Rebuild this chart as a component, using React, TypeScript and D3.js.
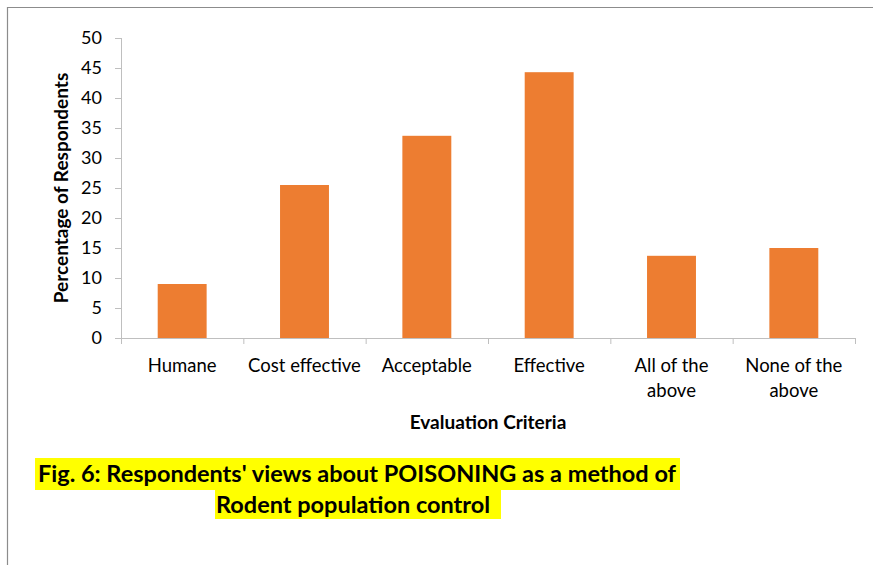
import React from "react";
import * as d3 from "d3";

const categories: string[][] = [
  ["Humane"],
  ["Cost effective"],
  ["Acceptable"],
  ["Effective"],
  ["All of the", "above"],
  ["None of the", "above"],
];
const values: number[] = [9.0, 25.5, 33.7, 44.3, 13.7, 15.0];
const yTicks: number[] = [0, 5, 10, 15, 20, 25, 30, 35, 40, 45, 50];
const yTitle = "Percentage of Respondents";
const xTitle = "Evaluation Criteria";
const caption1 = "Fig. 6: Respondents' views about POISONING as a method of";
const caption2 = "Rodent population control";

const W = 875;
const H = 565;
const FONT = "Lato, 'Open Sans', sans-serif";

export default function App() {
  const left = 121;
  const right = 855;
  const top = 38;
  const bottom = 338;
  const x = d3
    .scaleBand<number>()
    .domain(d3.range(categories.length))
    .range([left, right])
    .paddingInner(0.6)
    .paddingOuter(0.3);
  const y = d3.scaleLinear().domain([0, 50]).range([bottom, top]);
  const step = (right - left) / categories.length;
  const axisColor = "#bfbfbf";

  return (
    <svg
      width={W}
      height={H}
      style={{ position: "absolute", left: 0, top: 0, background: "#fff" }}
    >
      <line x1={7} y1={7.5} x2={873} y2={7.5} stroke="#8c8c8c" strokeWidth={1.2} />
      <line x1={7.5} y1={7} x2={7.5} y2={565} stroke="#8c8c8c" strokeWidth={1.2} />

      {/* y axis */}
      <line x1={left + 0.5} y1={top} x2={left + 0.5} y2={bottom} stroke={axisColor} />
      {yTicks.map((t) => (
        <g key={t}>
          <line x1={left - 6} x2={left} y1={y(t) + 0.5} y2={y(t) + 0.5} stroke={axisColor} />
          <text
            x={left - 19}
            y={y(t)}
            dy="0.36em"
            textAnchor="end"
            fontFamily={FONT}
            fontSize={18}
            fill="#000"
          >
            {t}
          </text>
        </g>
      ))}

      {/* bars */}
      {values.map((v, i) => (
        <rect
          key={i}
          x={x(i)}
          y={y(v)}
          width={x.bandwidth()}
          height={y(0) - y(v)}
          fill="#ED7D31"
        />
      ))}

      {/* x axis */}
      <line x1={left} y1={bottom + 0.5} x2={right} y2={bottom + 0.5} stroke={axisColor} />
      {d3.range(categories.length + 1).map((i) => (
        <line
          key={i}
          x1={left + i * step + 0.5}
          x2={left + i * step + 0.5}
          y1={bottom}
          y2={bottom + 6}
          stroke={axisColor}
        />
      ))}
      {categories.map((lines, i) => (
        <text
          key={i}
          x={left + (i + 0.5) * step}
          y={372}
          textAnchor="middle"
          fontFamily={FONT}
          fontSize={18.5}
          fill="#000"
        >
          {lines.map((l, j) => (
            <tspan key={j} x={left + (i + 0.5) * step} dy={j === 0 ? 0 : 25}>
              {l}
            </tspan>
          ))}
        </text>
      ))}

      {/* axis titles */}
      <text
        x={488}
        y={429}
        textAnchor="middle"
        fontFamily={FONT}
        fontSize={19}
        fontWeight="bold"
      >
        {xTitle}
      </text>
      <text
        transform={`translate(68, ${188}) rotate(-90)`}
        textAnchor="middle"
        fontFamily={FONT}
        fontSize={19}
        fontWeight="bold"
      >
        {yTitle}
      </text>

      {/* caption */}
      <rect x={35} y={458} width={645} height={32} fill="#ffff00" />
      <rect x={215} y={490} width={286} height={29} fill="#ffff00" />
      <text x={38} y={482} fontFamily={FONT} fontSize={23.5} fontWeight="bold">
        {caption1}
      </text>
      <text x={216} y={513} fontFamily={FONT} fontSize={23.5} fontWeight="bold">
        {caption2}
      </text>
    </svg>
  );
}
